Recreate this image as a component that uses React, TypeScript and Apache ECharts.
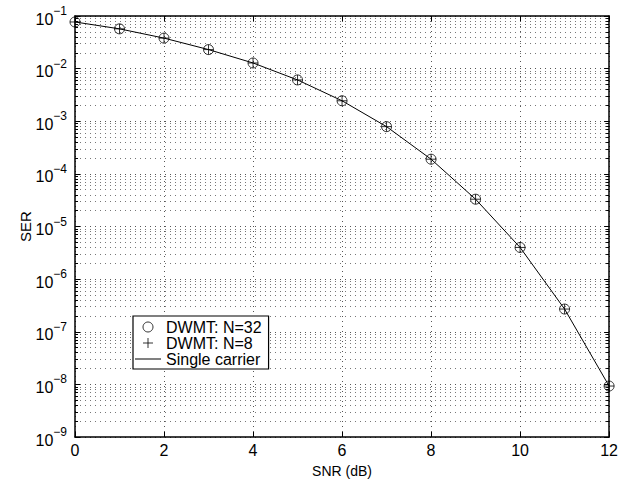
import React, { useEffect, useRef } from "react";
import * as echarts from "echarts";

const snrDb = [0, 1, 2, 3, 4, 5, 6, 7, 8, 9, 10, 11, 12];
const serDwmt32 = [7.7e-2, 5.7e-2, 3.8e-2, 2.3e-2, 1.28e-2, 6.1e-3, 2.45e-3, 7.9e-4, 1.9e-4, 3.3e-5, 4.0e-6, 2.7e-7, 9.3e-9];
const serDwmt8 = [7.7e-2, 5.7e-2, 3.8e-2, 2.3e-2, 1.28e-2, 6.1e-3, 2.45e-3, 7.9e-4, 1.9e-4, 3.3e-5, 4.0e-6, 2.7e-7, 9.3e-9];
const serSingle = [7.7e-2, 5.7e-2, 3.8e-2, 2.3e-2, 1.28e-2, 6.1e-3, 2.45e-3, 7.9e-4, 1.9e-4, 3.3e-5, 4.0e-6, 2.7e-7, 9.3e-9];
const seriesNames = ["DWMT: N=32", "DWMT: N=8", "Single carrier"];

const FONT = "Liberation Sans, Arial, Helvetica, sans-serif";
const PLUS = "path://M5 0 L5 10 M0 5 L10 5";
const DASH = "path://M0 0 L26 0 L26 1 L0 1 Z";

export default function App() {
  const ref = useRef<HTMLDivElement>(null);
  useEffect(() => {
    if (!ref.current) return;
    const chart = echarts.init(ref.current, undefined, { renderer: "svg" });
    const pair = (ys: number[]) => snrDb.map((x, i) => [x, ys[i]]);
    const dotted = { color: "#555", width: 1, type: [1, 4] as number[] };
    const option: any = {
      animation: false,
      backgroundColor: "#fff",
      textStyle: { fontFamily: FONT },
      grid: { left: 75, right: 9, top: 16, bottom: 45, containLabel: false },
      xAxis: [
        {
          type: "value",
          min: 0,
          max: 12,
          interval: 2,
          name: "SNR (dB)",
          nameLocation: "middle",
          nameGap: 27,
          nameMoveOverlap: false,
          nameTextStyle: { fontSize: 14, color: "#000", fontFamily: FONT },
          axisLine: { show: true, lineStyle: { color: "#000", width: 1.5 } },
          axisTick: { show: true, inside: true, length: 5, lineStyle: { color: "#000" } },
          axisLabel: { fontSize: 16, color: "#000", margin: 5, fontFamily: FONT },
          splitLine: { show: true, lineStyle: dotted },
        },
        {
          type: "value",
          position: "top",
          min: 0,
          max: 12,
          interval: 2,
          axisLine: { show: true, onZero: false, lineStyle: { color: "#000", width: 1.5 } },
          axisTick: { show: true, inside: true, length: 5, lineStyle: { color: "#000" } },
          axisLabel: { show: false },
          splitLine: { show: false },
        },
      ],
      yAxis: [
        {
          type: "log",
          logBase: 10,
          min: 1e-9,
          max: 1e-1,
          name: "SER",
          nameLocation: "middle",
          nameGap: 42,
          nameMoveOverlap: false,
          nameRotate: 90,
          nameTextStyle: { fontSize: 15, color: "#000", fontFamily: FONT },
          axisLine: { show: true, lineStyle: { color: "#000", width: 1.5 } },
          axisTick: { show: true, inside: true, length: 5, lineStyle: { color: "#000" } },
          minorTick: { show: true, splitNumber: 9, length: 3, lineStyle: { color: "#000" } },
          splitLine: { show: true, lineStyle: dotted },
          minorSplitLine: { show: true, lineStyle: { color: "#777", width: 1, type: [1, 4] } },
          axisLabel: {
            margin: 8,
            formatter: (v: number) => {
              const e = Math.round(Math.log10(v));
              return `{b|10}{e|${e < 0 ? "\u2212" : ""}${Math.abs(e)}}`;
            },
            rich: {
              b: { fontSize: 16, color: "#000", fontFamily: FONT, padding: [6, 0, 0, 0] },
              e: { fontSize: 12, color: "#000", fontFamily: FONT, padding: [0, 0, 10, 0] },
            },
          },
        },
        {
          type: "log",
          logBase: 10,
          min: 1e-9,
          max: 1e-1,
          position: "right",
          axisLine: { show: true, onZero: false, lineStyle: { color: "#000", width: 1.5 } },
          axisTick: { show: true, inside: true, length: 5, lineStyle: { color: "#000" } },
          minorTick: { show: true, splitNumber: 9, length: 3, lineStyle: { color: "#000" } },
          axisLabel: { show: false },
          splitLine: { show: false },
        },
      ],
      legend: {
        orient: "vertical",
        left: 133,
        top: 316,
        padding: [3, 7, 2, 2],
        itemGap: 0,
        itemWidth: 26,
        itemHeight: 10,
        borderColor: "#000",
        borderWidth: 1.2,
        backgroundColor: "#fff",
        textStyle: { fontSize: 16, lineHeight: 16, color: "#000", fontFamily: FONT },
        data: [
          { name: seriesNames[0], icon: "circle", itemStyle: { color: "transparent", borderColor: "#000", borderWidth: 1 } },
          { name: seriesNames[1], icon: PLUS, itemStyle: { color: "transparent", borderColor: "#000", borderWidth: 1 } },
          { name: seriesNames[2], icon: DASH, itemStyle: { color: "#000", borderWidth: 0 } },
        ],
      },
      series: [
        {
          name: seriesNames[2],
          type: "line",
          data: pair(serSingle),
          showSymbol: false,
          symbol: "none",
          lineStyle: { color: "#000", width: 1 },
          itemStyle: { color: "#000" },
          z: 2,
        },
        {
          name: seriesNames[0],
          type: "scatter",
          data: pair(serDwmt32),
          symbol: "circle",
          symbolSize: 10,
          itemStyle: { color: "transparent", borderColor: "#000", borderWidth: 1 },
          z: 3,
        },
        {
          name: seriesNames[1],
          type: "scatter",
          data: pair(serDwmt8),
          symbol: PLUS,
          symbolSize: 10,
          itemStyle: { color: "transparent", borderColor: "#000", borderWidth: 1 },
          z: 3,
        },
      ],
    };
    chart.setOption(option);
    return () => chart.dispose();
  }, []);
  return <div ref={ref} style={{ width: 621, height: 483, position: "absolute", left: 0, top: 0 }} />;
}
